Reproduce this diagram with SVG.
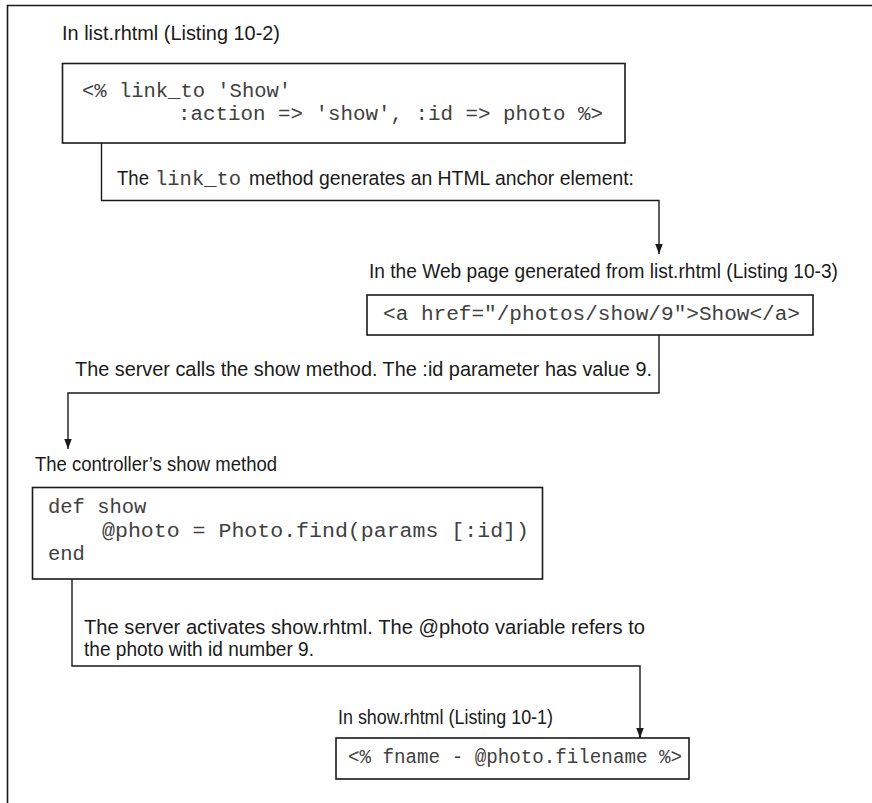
<svg xmlns="http://www.w3.org/2000/svg" width="872" height="803" viewBox="0 0 872 803">
<defs>
<style>
.frame{fill:none;stroke:#1a1a1a;stroke-width:1.6}
.box{fill:#fff;stroke:#1a1a1a;stroke-width:1.6}
.conn{fill:none;stroke:#1a1a1a;stroke-width:1.4}
.lbl{font-family:"Liberation Sans",Arial,sans-serif;font-size:20.5px;fill:#1a1a1a}
.code{font-family:"Liberation Mono","Courier New",monospace;font-size:20.5px;fill:#404040}
</style>
<marker id="arr" markerUnits="userSpaceOnUse" markerWidth="10" markerHeight="14" refX="12" refY="4.5" orient="auto" viewBox="0 0 12 9">
<path d="M0,0 L12,4.5 L0,9 Z" fill="#1a1a1a"/>
</marker>
</defs>
<rect width="872" height="803" fill="#fff"/>
<path class="frame" d="M7.5,803 V5.5 H872"/>

<g id="connectors">
<path class="conn" d="M101.5,143 V200.5 H659 V254" marker-end="url(#arr)"/>
<path class="conn" d="M659,335 V393 H68 V449" marker-end="url(#arr)"/>
<path class="conn" d="M72,579 V666 H640 V738" marker-end="url(#arr)"/>
<path class="conn" d="M640,736 V748"/>
</g>

<g id="node-list">
<text class="lbl" x="62" y="40" textLength="218" lengthAdjust="spacingAndGlyphs">In list.rhtml (Listing 10-2)</text>
<rect class="box" x="62.5" y="63.5" width="562.5" height="79.5"/>
<text class="code" x="82" y="97">&lt;% link_to 'Show'</text>
<text class="code" x="178" y="120" textLength="425" lengthAdjust="spacingAndGlyphs">:action =&gt; 'show', :id =&gt; photo %&gt;</text>
</g>

<g id="label-link">
<text class="lbl" y="185"><tspan x="117" textLength="32" lengthAdjust="spacingAndGlyphs">The</tspan><tspan x="155" font-family="Liberation Mono, monospace" font-size="20.5" fill="#404040">link_to</tspan><tspan x="249" textLength="385" lengthAdjust="spacingAndGlyphs">method generates an HTML anchor element:</tspan></text>
</g>

<g id="node-webpage">
<text class="lbl" x="369" y="278" textLength="469" lengthAdjust="spacingAndGlyphs">In the Web page generated from list.rhtml (Listing 10-3)</text>
<rect class="box" x="367" y="295" width="446" height="40"/>
<text class="code" x="383" y="320" textLength="417" lengthAdjust="spacingAndGlyphs">&lt;a href="/photos/show/9"&gt;Show&lt;/a&gt;</text>
</g>

<g id="label-server-calls">
<text class="lbl" x="75" y="376" textLength="577" lengthAdjust="spacingAndGlyphs">The server calls the show method. The :id parameter has value 9.</text>
</g>

<g id="node-controller">
<text class="lbl" x="35" y="471" textLength="242" lengthAdjust="spacingAndGlyphs">The controller’s show method</text>
<rect class="box" x="32.5" y="487.5" width="510" height="91.5"/>
<text class="code" x="48" y="513">def show</text>
<text class="code" x="102" y="537" textLength="427" lengthAdjust="spacingAndGlyphs">@photo = Photo.find(params [:id])</text>
<text class="code" x="48" y="560">end</text>
</g>

<g id="label-activates">
<text class="lbl" x="84" y="634" textLength="561" lengthAdjust="spacingAndGlyphs">The server activates show.rhtml. The @photo variable refers to</text>
<text class="lbl" x="84" y="656" textLength="230" lengthAdjust="spacingAndGlyphs">the photo with id number 9.</text>
</g>

<g id="node-show">
<text class="lbl" x="338" y="724" textLength="215" lengthAdjust="spacingAndGlyphs">In show.rhtml (Listing 10-1)</text>
<rect class="box" x="336" y="738" width="353" height="41"/>
<text class="code" x="348" y="763" textLength="334" lengthAdjust="spacingAndGlyphs">&lt;% fname - @photo.filename %&gt;</text>
</g>
</svg>
